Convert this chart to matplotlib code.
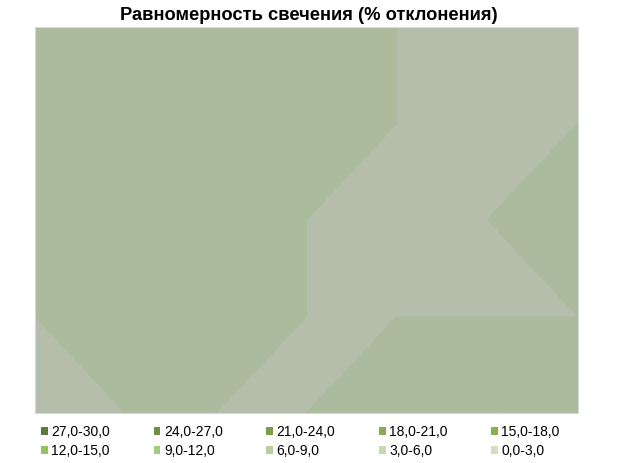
"""
Равномерность свечения: контурная карта отклонений (%) по сетке точек.
"""

import matplotlib
matplotlib.use("Agg")
import matplotlib.pyplot as plt
import numpy as np
from matplotlib.patches import Patch


# ------------------------------------------------------------
# Данные
# ------------------------------------------------------------

TITLE = "Равномерность свечения (% отклонения)"

# отклонение, %, в узлах сетки (строки сверху вниз, 7 точек в строке)
row_1 = [7.0, 7.0, 7.0, 7.0, 6.0, 6.0, 6.0]
row_2 = [7.0, 7.0, 7.0, 7.0, 6.0, 6.0, 6.0]
row_3 = [7.0, 7.0, 7.0, 6.0, 6.0, 6.0, 7.0]
row_4 = [6.0, 7.0, 7.0, 6.0, 6.0, 6.0, 6.0]
row_5 = [6.0, 6.0, 6.0, 6.0, 7.0, 7.0, 7.0]

levels = [0, 3, 6, 9, 12, 15, 18, 21, 24, 27, 30]
band_labels = ["0,0-3,0", "3,0-6,0", "6,0-9,0", "9,0-12,0", "12,0-15,0",
               "15,0-18,0", "18,0-21,0", "21,0-24,0", "24,0-27,0", "27,0-30,0"]

# цвета легенды (от 0-3 к 27-30)
legend_colors = ["#d2dfc3", "#c7d8b5", "#b8d09c", "#a9c982", "#9bbf5f",
                 "#8bb04e", "#8aaa55", "#7c9c48", "#70903f", "#5d7a3c"]


# ------------------------------------------------------------
# Построение
# ------------------------------------------------------------

plt.rcParams["font.family"] = ["Liberation Sans", "DejaVu Sans"]

Z = np.array([row_1, row_2, row_3, row_4, row_5])
X = np.arange(Z.shape[1])
Y = np.arange(Z.shape[0])


# поверхность в Excel выглядит приглушённой - смешиваем с серым
def muted(c, k=0.55, gray=158):
    rgb = np.array(matplotlib.colors.to_rgb(c)) * 255
    return tuple((rgb * k + gray * (1 - k)) / 255)


fill_colors = [muted(c) for c in legend_colors]

fig = plt.figure(figsize=(6.18, 4.63), dpi=100)
ax = fig.add_axes([35 / 618, 1 - 413 / 463, 543 / 618, 386.5 / 463])

ax.contourf(X, Y, Z, levels=levels, colors=fill_colors)
ax.set_xlim(X[0], X[-1])
ax.set_ylim(Y[-1], Y[0])
ax.set_xticks([])
ax.set_yticks([])
for sp in ax.spines.values():
    sp.set_color("#d9d9d9")
    sp.set_linewidth(0.8)

fig.text(0.5, 1 - 15 / 463, TITLE, ha="center", va="center",
         fontsize=13.2, fontweight="bold")

# легенда: 2 строки по 5, сверху старшие диапазоны
order = list(range(len(band_labels) - 1, -1, -1))
handles = [Patch(facecolor=legend_colors[i], edgecolor="none") for i in order]
labels = [band_labels[i] for i in order]
# matplotlib заполняет по столбцам - переставляем
h2, l2 = [], []
for col in range(5):
    for row in range(2):
        h2.append(handles[row * 5 + col])
        l2.append(labels[row * 5 + col])

fig.legend(h2, l2, ncol=5, loc="center", bbox_to_anchor=(0.486, 1 - 441.5 / 463),
           frameon=False, fontsize=10, handlelength=0.5, handleheight=0.5,
           handletextpad=0.25, columnspacing=3.12, labelspacing=0.32,
           borderpad=0.2)

fig.savefig("out.png", dpi=100)
